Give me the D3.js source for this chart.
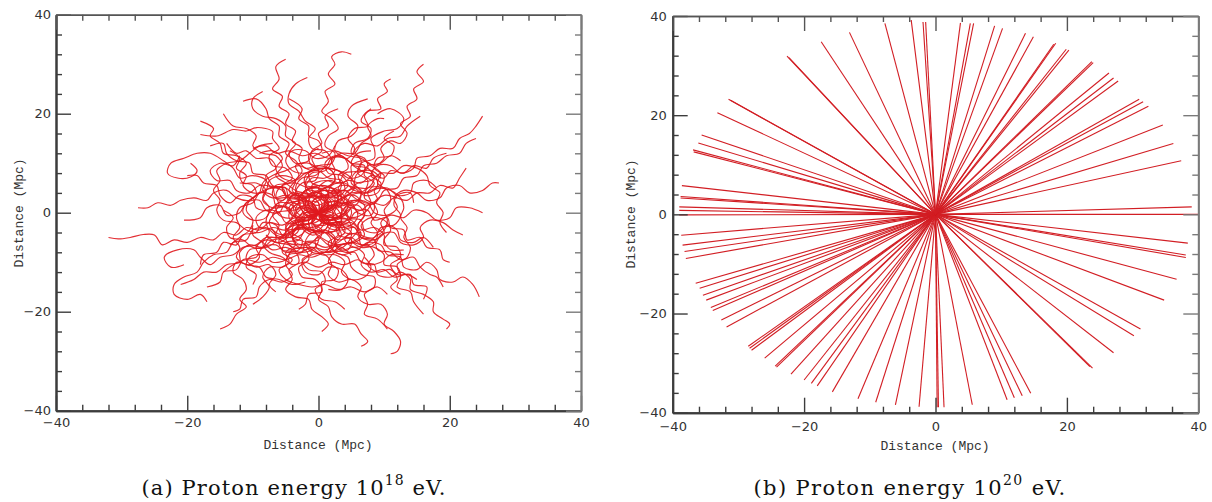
<!DOCTYPE html>
<html><head><meta charset="utf-8">
<script src="https://cdn.jsdelivr.net/npm/d3@7"></script>
<style>
html,body{margin:0;padding:0;background:#fff;}
svg{display:block;}
</style></head>
<body>
<script>
// ---------------- data ----------------
const axisDomain = [-40, 40];
const majorTicks = [-40, -20, 0, 20, 40];
const minorTicks = [-36,-32,-28,-24,-16,-12,-8,-4,4,8,12,16,24,28,32,36];
const axisTitle = "Distance (Mpc)";
const captionA = ["(a) Proton energy 10", "18", " eV."];
const captionB = ["(b) Proton energy 10", "20", " eV."];

// (a) 10^18 eV: diffusive trajectories (Mpc), each starting at the source
const walkPaths = [
 [[0,0],[1.5,1.5],[3,0.5],[3.5,-1.5],[2,-2.5],[0,-1.5],[-1.5,0],[-2,2],[-1,4],[1,5],[2.5,6.5],[2,8.5],[0,9.5],[-2,9],[-3,11],[-2.5,13],[-4,14.5],[-3.5,16.5],[-5,18],[-4.5,20],[-6,21.5],[-5.5,23.5],[-7,25],[-6,27],[-6.5,29.5],[-5,31]],
 [[0,0],[-1,-2],[-3,-2.5],[-4.5,-1],[-4,1],[-2,2],[0,1.5],[1.5,3],[1,5],[-1,6],[-1.5,8],[0,9.5],[2,10],[2.5,12],[1,13.5],[1.5,15.5],[3,17],[2,19],[0.5,20.5],[1.5,22.5],[1,24.5],[2.5,26],[1.5,28],[2.5,30],[2,31.5],[3.5,32.5],[5,32]],
 [[0,0],[2,-1],[4,0],[4.5,2],[3,3.5],[1,3],[0,5],[1.5,6.5],[3.5,6],[5,7.5],[5,9.5],[7,10.5],[8.5,9.5],[10,11],[9.5,13],[11,14.5],[12.5,14],[13.5,16],[12.5,18],[14,19.5],[13.5,21.5],[15,23],[14.5,25],[16,26.5],[15,28.5],[16,30]],
 [[0,0],[-1.5,1.5],[-1,3.5],[1,4.5],[3,4],[4,2],[6,2.5],[6.5,4.5],[5,6],[5.5,8],[7.5,9],[7,11],[5,12],[5.5,14],[7.5,15],[8,17],[6.5,18.5],[7.5,20.5],[9.5,21],[9,23],[10.5,24.5],[10,26],[11,27]],
 [[0,0],[2,0.5],[3,2.5],[2,4],[3.5,5.5],[5.5,5],[7,3.5],[9,4],[9.5,6],[8,7.5],[9,9.5],[11,9.5],[12.5,8],[14.5,9],[15,11],[17,11.5],[18.5,13],[20.5,13],[21.5,15],[23,16],[24,17.5],[25,19.5]],
 [[0,0],[1,-2],[3,-2.5],[4.5,-1],[4,1],[5.5,2.5],[7.5,2],[8.5,0],[10.5,-0.5],[12,1],[11.5,3],[13,4.5],[15,4],[16.5,2.5],[18.5,3],[19.5,5],[21.5,5.5],[23,4],[25,4.5],[26.5,6],[27.5,6]],
 [[0,0],[-1,-1.5],[0,-3.5],[2,-4],[3.5,-2.5],[5.5,-3],[6.5,-5],[8.5,-5.5],[10,-4],[9.5,-2],[11,-0.5],[13,-1],[14.5,0.5],[16.5,0],[18,-1.5],[20,-1],[21,1],[23,1],[25,0]],
 [[0,0],[2,1],[3,-1],[5,-1.5],[6,-3.5],[5,-5.5],[6.5,-7],[8.5,-6.5],[9.5,-4.5],[11.5,-4],[12.5,-6],[14.5,-6.5],[16,-5],[15.5,-3],[17,-1.5],[19,-2],[20.5,-3.5],[22,-4.5]],
 [[0,0],[0.5,-2],[2.5,-2.5],[3.5,-4.5],[2.5,-6.5],[4,-8],[6,-7.5],[7.5,-6],[9.5,-6.5],[10.5,-8.5],[12.5,-9],[13,-11],[15,-11.5],[16.5,-10],[18,-11.5],[18.5,-13.5],[20.5,-14],[22,-13],[23.5,-14.5],[24.5,-17]],
 [[0,0],[-2,-0.5],[-2.5,-2.5],[-1,-4],[1,-3.5],[2.5,-5],[2,-7],[3.5,-8.5],[5.5,-8],[6.5,-10],[8.5,-10.5],[9,-12.5],[11,-13],[12.5,-12],[14,-13.5],[14,-15.5],[16,-16.5],[17.5,-18],[17.5,-20],[19,-21.5],[20,-22.5],[19.5,-23.5]],
 [[0,0],[1.5,-1.5],[1,-3.5],[-1,-4],[-2,-6],[-1,-8],[1,-8.5],[2,-10.5],[1.5,-12.5],[3,-14],[5,-13.5],[6.5,-15],[6,-17],[7.5,-18.5],[9.5,-18.5],[10.5,-20.5],[10,-22.5],[11.5,-24],[12.5,-26],[12,-28],[11,-28.5]],
 [[0,0],[-1.5,-1],[-1.5,-3],[-3.5,-3.5],[-5,-5],[-4,-7],[-2,-7.5],[-1.5,-9.5],[-3,-11],[-2.5,-13],[-0.5,-13.5],[0.5,-15.5],[0,-17.5],[1.5,-19],[2,-21],[3.5,-22.5],[5.5,-22.5],[6.5,-24.5],[7.5,-26],[6.5,-27]],
 [[0,0],[-2,1],[-3.5,-0.5],[-3,-2.5],[-4.5,-4],[-6,-5.5],[-5.5,-7.5],[-3.5,-8],[-3,-10],[-4.5,-11.5],[-4,-13.5],[-5,-15.5],[-3.5,-17],[-1.5,-17.5],[-1,-19.5],[0.5,-21],[1.5,-22.5],[0.5,-24]],
 [[0,0],[-1.5,-1.5],[-3.5,-1],[-5,-2.5],[-4.5,-4.5],[-6,-6],[-8,-5.5],[-9.5,-7],[-9,-9],[-10.5,-10.5],[-12.5,-10],[-13,-12],[-11.5,-13.5],[-11,-15.5],[-12,-17.5],[-11,-19],[-12.5,-20.5],[-13.5,-22.5],[-15,-23.5]],
 [[0,0],[-2,0],[-3.5,-1.5],[-3,-3.5],[-4.5,-5],[-6.5,-4.5],[-8,-3],[-10,-3.5],[-11,-5.5],[-13,-6],[-14,-8],[-16,-8.5],[-17.5,-10],[-18.5,-12],[-20.5,-13],[-22,-14.5],[-22,-16.5],[-20,-17.5],[-18,-16.5],[-17,-18]],
 [[0,0],[-1,2],[-3,2.5],[-4.5,1],[-4,-1],[-5.5,-2.5],[-7.5,-2],[-9,-3.5],[-11,-3],[-12.5,-4.5],[-14.5,-4],[-16,-5.5],[-18,-5],[-20,-6],[-22,-5.5],[-23.8,-6.5],[-25,-4.5],[-26.7,-4.4],[-28.7,-5],[-30.5,-5.3],[-32,-5]],
 [[0,0],[-1.5,-1.5],[-3.5,-1],[-4.5,1],[-6.5,1.5],[-7,3.5],[-9,4],[-10.5,2.5],[-12.5,3],[-14,4.5],[-16,4],[-17,2.5],[-19,3],[-21,2.5],[-22.5,1.5],[-24.5,2],[-26,1],[-27.5,1]],
 [[0,0],[1,2],[0,4],[-2,4.5],[-3,3],[-5,3.5],[-5.5,5.5],[-4,7],[-5,9],[-7,9.5],[-7.5,11.5],[-6,13],[-7,15],[-7,16.4],[-9.4,17.2],[-11,16.5],[-13,16.8],[-15.5,15.5],[-18,15.8]],
 [[0,0],[-2,-1],[-3.5,0.5],[-3,2.5],[-5,3.5],[-7,3],[-8.5,4.5],[-8,6.5],[-10,7.5],[-12,7],[-13,9],[-14.5,10.5],[-16.5,12],[-18.5,12],[-20.5,11],[-22.5,10],[-23,8],[-21.5,7],[-19.5,7.2],[-18.5,8.5],[-19.5,10]],
 [[0,0],[0,2],[-2,2.5],[-3.5,4],[-2.5,6],[-0.5,6.5],[0,8.5],[-1.5,10],[-3.5,10],[-4.5,12],[-3.5,14],[-5,15.5],[-5,17.5],[-6.5,19],[-8.5,19.5],[-10,21],[-10,23],[-8.5,24.5]],
 [[0,0],[2,1],[2.5,3],[1,4.5],[-1,4],[-2,6],[-1,8],[1,8.5],[2,10.5],[1,12.5],[-1,13],[-1.5,15],[-0.5,17],[-2,18.5],[-3,20.5],[-4.5,22],[-4.5,24],[-3.5,26],[-1.7,27.3]],
 [[0,0],[1.5,1.5],[3.5,1],[4.5,-1],[6.5,-1.5],[7,-3.5],[9,-4],[10.5,-2.5],[12,-3.5],[12.5,-5.5],[14.5,-6],[16,-5],[17.5,-7]],
 [[0,0],[2,1],[3.5,2.5],[3,4.5],[1,5],[-0.5,3.5],[-2.5,3],[-3.5,5],[-2.5,7],[-0.5,7.5],[1,9],[3,8.5],[4.5,7],[6.5,7.5],[7.5,9.5],[9.5,10],[11,11.5],[12.5,10.5]],
 [[0,0],[-2,-1],[-2.5,-3],[-1,-4.5],[1,-4],[2.5,-5.5],[2,-7.5],[0,-8],[-2,-7],[-4,-7.5],[-5,-9.5],[-7,-10],[-8.5,-8.5],[-10.5,-9],[-11,-11],[-9.5,-12.5],[-10,-14.5]],
 [[0,0],[1,2],[-0.5,3.5],[-2.5,3],[-4,4.5],[-3.5,6.5],[-5.5,7.5],[-7.5,6.5],[-8,4.5],[-10,4],[-11.5,5.5],[-11,7.5],[-12.5,9],[-12,11],[-13.5,12.5]],
 [[0,0],[2,-0.5],[3,1.5],[5,2],[6,0],[8,-0.5],[8.5,1.5],[7,3],[7.5,5],[9.5,5.5],[10,7.5],[8.5,9],[9,11],[11,11.5],[11.5,13.5],[10,15],[11.5,16.5]],
 [[0,0],[-1,-2],[1,-2.5],[2.5,-1],[4.5,-1.5],[5,-3.5],[4,-5.5],[5.5,-7],[7.5,-6.5],[8.5,-8.5],[7.5,-10.5],[9,-12],[11,-11.5],[12,-13.5],[11,-15],[12.5,-16.5]],
 [[0,0],[-2,0.5],[-3,-1.5],[-2,-3.5],[-3.5,-5],[-5.5,-4.5],[-6.5,-2.5],[-8.5,-2],[-9.5,-4],[-11.5,-4.5],[-12.5,-6.5],[-14.5,-6],[-15.5,-8],[-17.5,-8.5],[-18,-10.5]],
 [[0,0],[0.5,-2],[-1.5,-3],[-3,-1.5],[-4.5,-3],[-4,-5],[-2,-6],[-1,-8],[-2.5,-9.5],[-1.5,-11.5],[0.5,-12],[1,-14],[-0.5,-15.5],[0.5,-17.5],[2.5,-18],[4,-19.5]],
 [[0,0],[1.5,-1.5],[3.5,-0.5],[3.5,1.5],[5.5,2.5],[7.5,1.5],[9,2.5],[8.5,4.5],[10.5,5],[12,3.5],[14,4],[14.5,6],[16.5,6.5],[18,5]],
 [[0,0],[-1,1.5],[-3,1],[-4,-1],[-6,-0.5],[-6.5,1.5],[-5,3],[-5.5,5],[-7.5,5.5],[-8,7.5],[-6.5,9],[-7.5,11],[-9.5,11],[-11,12.5],[-12.5,12],[-14,14]],
 [[0,0],[1.5,-2],[3.5,-2],[4,-4],[2.5,-5.5],[3.5,-7.5],[5.5,-7],[7,-8.5],[6.5,-10.5],[8,-12],[10,-11.5],[11.5,-13],[13.5,-12.5],[15,-13.5]],
 [[0,0],[-1.5,-1.5],[-3.5,-2],[-4,-4],[-2.5,-5.5],[-3,-7.5],[-5,-8],[-6.5,-6.5],[-8.5,-7],[-9.5,-9],[-11.5,-9.5],[-12.5,-11.5],[-14.5,-12],[-15,-14],[-17,-15]],
 [[0,0],[1.5,1.5],[1,3.5],[3,4],[4.5,5.5],[3.5,7.5],[1.5,8],[1,10],[2.5,11.5],[4.5,11],[5.5,13],[4.5,15],[5.5,17],[7.5,17.5],[7,19.5],[8,21]],
 [[0,0],[-2,1],[-2,3],[-4,4],[-5.5,2.5],[-7,3.5],[-6.5,5.5],[-4.5,6],[-3,7.5],[-3.5,9.5],[-1.5,10.5],[-1,12.5],[0.5,14],[0,16],[1.5,17.5],[1,19.5],[3,21]],
 [[0,0],[2,0.5],[2.5,-1.5],[4.5,-2],[5.5,0],[7.5,0.5],[8.5,-1.5],[10.5,-1],[11,-3],[13,-3.5],[13.5,-5.5],[15.5,-5],[16.5,-7],[18.5,-7.5],[19,-9.5],[20,-10]],
 [[0,0],[-2,-0.5],[-3,1.5],[-5,2],[-6,0],[-8,0.5],[-9,2.5],[-11,2],[-12,0],[-14,-0.5],[-15,1.5],[-17,1],[-18,-1],[-20.5,-1.5]],
 [[0,0],[0.5,-2],[2.5,-2.5],[3,-4.5],[5,-5.5],[4.5,-7.5],[2.5,-8],[1.5,-10],[3,-11.5],[2.5,-13.5],[0.5,-14],[0.5,-16],[-1.5,-16.5],[-2,-18.5],[-3,-19.5]],
 [[0,0],[1,1.5],[3,1],[4,3],[3,5],[4.5,6.5],[6.5,6],[8,7.5],[10,7],[11,8.5],[13,8],[14.5,9.5],[16.5,9],[17.5,11],[19.5,12]],
 [[0,0],[-1.5,1],[-2,3],[-4,3.5],[-5,1.5],[-7,1],[-8.5,2.5],[-8,4.5],[-9.5,6],[-11.5,6],[-12,8],[-11,10],[-12.5,11.5],[-14.5,12],[-15,14],[-16.5,15.5],[-16,17],[-18,18.5]],
 [[0,0],[1,-1.5],[0,-3.5],[-2,-3.5],[-3,-5.5],[-5,-6],[-5.5,-8],[-4,-9.5],[-5.5,-11],[-7.5,-11],[-8.5,-13],[-7.5,-15],[-8.5,-17],[-10,-18.5]],
 [[0,0],[2,1],[1.5,3],[-0.5,3.5],[-1,5.5],[1,6.5],[3,6],[4,8],[6,8.5],[6.5,10.5],[5.5,12.5],[7,14],[9,13.5],[10.5,15],[12.5,15.5],[13.5,17.5],[15.5,19.5]],
 [[0,0],[-1.5,-1],[-3.5,-0.5],[-4,1.5],[-6,2],[-7.5,0.5],[-9.5,1],[-10,3],[-12,3.5],[-13.5,2],[-15,3.5],[-15.5,5.5],[-17.5,6],[-18.5,7.5],[-20,7.5]],
 [[0,0],[1.5,-1],[1.5,-3],[3.5,-3.5],[5.5,-3],[6.5,-5],[8.5,-5.5],[9,-7.5],[11,-8],[12.5,-9.5],[14.5,-9],[15.5,-11],[17,-12.5],[18,-13],[19,-15]],
 [[0,0],[-1,-2],[0.5,-3.5],[0,-5.5],[-2,-6],[-2.5,-8],[-4.5,-8.5],[-5,-10.5],[-4,-12.5],[-5.5,-14],[-7.5,-13.5],[-9,-15],[-9.5,-17],[-11.5,-17.5],[-12,-19.5],[-13,-20]],
 [[0,0],[1.5,1],[1,3],[-1,3],[-2,5],[-1,7],[1,7],[2.5,8.5],[2,10.5],[3.5,12],[5.5,12],[6.5,14],[8,15.5],[7.5,17.5],[9,19],[10,19]],
 [[0,0],[-2,0.5],[-2.5,2.5],[-4.5,3],[-5,5],[-7,5.5],[-8,7.5],[-10,8],[-10.5,10],[-12.5,10.5],[-14,12],[-14.5,14],[-16.5,13.5]],
 [[0,0],[2,-0.5],[3,-2.5],[5,-2],[6.5,-3.5],[8.5,-3],[10,-4.5],[10,-6.5],[12,-7],[12.5,-9],[11,-10.5],[12,-12.5],[14,-12.5],[14.5,-14.5],[16.5,-15],[16,-17.5]],
 [[0,0],[-1.5,-1.5],[-3.5,-1.5],[-5,-3],[-5,-5],[-7,-5.5],[-8.5,-7],[-10.5,-6.5],[-12,-8],[-12,-10],[-14,-10.5],[-15.5,-12],[-17.5,-12],[-19,-13.5],[-21,-14.5]],
 [[0,0],[1,-2],[3,-2],[4,-4],[6,-4.5],[6.5,-6.5],[8.5,-7],[10,-8.5],[10,-10.5],[12,-11],[12.5,-13],[12,-15],[14,-16],[14.5,-18],[16,-20.5]],
 [[0,0],[-1,1.5],[0.5,3],[0,5],[-2,5.5],[-2,7.5],[-0.5,9],[-1,11],[0.5,12.5],[0,14.5],[-1.5,15.5],[-1.5,17.5],[-3,19],[-2.5,21],[-4.5,23]],
 [[0,0],[1.5,-1.5],[3.5,-1],[4.5,1],[6.5,0.5],[8,2],[10,1.5],[11.5,3],[13.5,2.5],[15,4],[17,4],[18.5,5.5],[20.5,5],[21.5,7],[22.5,9]],
 [[0,0],[-2,-1],[-2.5,-3],[-4.5,-3.5],[-6,-5],[-8,-5],[-9.5,-6.5],[-11.5,-7],[-13,-8.5],[-15,-9],[-16.5,-10.5],[-18,-9],[-19,-7.5],[-21.5,-7.5],[-23.5,-9],[-22.5,-11],[-20.5,-10.5]],
 [[0,0],[1,-2],[3,-2.5],[3,-4.5],[1.5,-6],[2.5,-8],[4.5,-9],[5,-11],[6.5,-12.5],[8.5,-13],[8.5,-15],[7,-16.5],[7.5,-18.5],[7,-20.5],[9,-21.5],[10.5,-23.5]],
 [[0,0],[2,1.5],[4,1.5],[5,3.5],[7,4.5],[7.5,6.5],[6,8],[6.5,10],[8.5,11],[8.5,13],[8,15],[10,16.5],[12,17],[13,19],[11,21],[9,20]],
 [[0,0],[-1,2],[0.5,3.5],[2.5,3.5],[3.5,5.5],[3,7.5],[4.5,9],[4,11],[2.5,12.5],[3,14.5],[5,15.5],[6,17.5],[4.5,19.5],[5,21.5],[7.5,23]],
 [[0,0],[-1.5,1.5],[-1.5,3.5],[-3.5,4.5],[-5,6],[-6.5,7.5],[-5.5,9.5],[-6.5,11.5],[-8.5,12],[-10,13.5],[-9.5,15.5],[-11,17],[-13,17.5],[-14.5,20]],
 [[0,0],[0.5,2],[-1,3.5],[-3,3],[-4.5,4.5],[-3.5,6.5],[-2.5,8.5],[-3.5,10.5],[-5,12],[-4.5,14],[-6,15.5],[-6,17.5],[-7.5,19],[-8,21],[-9.5,23],[-11.5,22.5]],
 [[0,0],[2,1],[3.5,3],[5.5,3.5],[7,2],[9,2.5],[10,4.5],[12,5],[13,7],[15,7.5],[16,9.5],[18,10],[19.5,11.5],[21.5,12],[22.5,14],[24,15]],
 [[0,0],[2,1],[3,3],[2,5],[0,5.5],[-2,4.5],[-3,2.5],[-2.5,0.5],[-1,-1],[1,-1.5],[3,-1],[4.5,0.5],[6,2],[6.5,4],[5.5,6],[6,8],[8,8.5],[9.5,7]],
 [[0,0],[-2,-1],[-4,-0.5],[-5,1.5],[-4,3.5],[-2,4],[0,3],[1.5,1.5],[1,-0.5],[-0.5,-2],[-2.5,-2.5],[-4,-4],[-3.5,-6],[-1.5,-6.5],[0,-5],[1.5,-6.5],[3.5,-7],[5,-8.5]],
 [[0,0],[1,-2],[3,-3],[5,-2.5],[6,-0.5],[5,1.5],[3,2],[1.5,3.5],[2,5.5],[4,6],[5.5,4.5],[7.5,4],[9,5.5],[8.5,7.5],[6.5,8.5],[5,10],[6,12],[8,12.5]],
 [[0,0],[-1,2],[-3,2],[-4.5,0.5],[-6.5,0],[-7.5,-2],[-6.5,-4],[-4.5,-4.5],[-3,-3],[-1,-3.5],[0,-5.5],[-1,-7.5],[-3,-8],[-5,-7],[-7,-7.5],[-8.5,-6],[-10,-4.5],[-10,-2.5]],
 [[0,0],[2,0],[3.5,-1.5],[3,-3.5],[1,-4],[-0.5,-5.5],[0,-7.5],[2,-8],[3.5,-6.5],[5.5,-6],[7,-4.5],[6.5,-2.5],[8,-1],[10,-1.5],[11,-3.5],[10,-5.5],[11,-7.5],[13,-7.5]],
 [[0,0],[-2,1.5],[-2.5,3.5],[-1,5],[1,5],[2.5,6.5],[2,8.5],[0,9],[-2,8],[-4,8.5],[-5,10.5],[-4,12.5],[-2,12.5],[-0.5,11],[1.5,11.5],[2.5,13.5]],
 [[0,0],[1.5,1.5],[1,3.5],[-1,4],[-2.5,2.5],[-4.5,2.5],[-5.5,4.5],[-7.5,5],[-8.5,3],[-7.5,1],[-8,-1],[-10,-1.5],[-11.5,0],[-11,2],[-9.5,3.5],[-10,5.5],[-12,6]],
 [[0,0],[1,-1.5],[3,-1],[4,1],[6,1.5],[7,-0.5],[6,-2.5],[6.5,-4.5],[8.5,-5],[9.5,-3],[11.5,-2.5],[12.5,-0.5],[11.5,1.5],[12,3.5],[14,4],[14.5,2]],
 [[0,0],[-1.5,-1.5],[-1,-3.5],[1,-4],[2,-6],[1,-8],[-1,-8.5],[-2.5,-10],[-2,-12],[0,-12.5],[1.5,-11],[3.5,-11.5],[4.5,-13.5],[3.5,-15.5],[1.5,-15.5]],
 [[0,0],[1.5,2],[3.5,2],[5,0.5],[4.5,-1.5],[2.5,-2],[1.5,-4],[3,-5.5],[5,-5],[6.5,-6.5],[8.5,-6],[9,-4],[8,-2],[9,0],[8.5,2],[10,3.5],[12,3]],
 [[0,0],[-1,2],[0.5,3.5],[2.5,3],[4,4.5],[3.5,6.5],[1.5,7],[0,8.5],[-2,8],[-3.5,6.5],[-5.5,7],[-6.5,9],[-5.5,11],[-7,12.5],[-9,12]],
 [[0,0],[-2,0],[-3,-2],[-5,-2],[-6,0],[-8,0.5],[-9.5,-1],[-9,-3],[-7,-3.5],[-6.5,-5.5],[-8,-7],[-10,-7],[-11.5,-5.5],[-13.5,-5],[-14,-3],[-13,-1],[-14.5,0.5]],
 [[0,0],[0.5,-2],[-1,-3.5],[-3,-3],[-4,-5],[-3,-7],[-1,-7],[0.5,-8.5],[2.5,-8.5],[4,-10],[3.5,-12],[5,-13.5],[7,-13],[8,-11],[7,-9]],
 [[0,0],[2,-1],[4,-0.5],[5,1.5],[4,3.5],[5.5,5],[7.5,5],[8.5,7],[7.5,9],[5.5,9.5],[4,11],[2,11],[1,9],[-1,9.5],[-1.5,11.5],[0,13]],
 [[0,0],[-1.5,1.5],[-3.5,1],[-4.5,3],[-6.5,3],[-7,5],[-9,5.5],[-10.5,4],[-12.5,4.5],[-13.5,6.5],[-15.5,6.5],[-16.5,8.5],[-15,10],[-13,9.5],[-12,11.5]],
 [[0,0],[1.5,-1.5],[1,-3.5],[-1,-4],[-2.5,-2.5],[-4.5,-3],[-5.5,-5],[-7.5,-5],[-8.5,-7],[-10.5,-7.5],[-11,-9.5],[-9.5,-11],[-7.5,-10.5],[-6.5,-12.5],[-7.5,-14.5],[-6.5,-16]],
 [[0,0],[2,1.5],[4,3],[5.5,5],[5,7],[3,8.5],[1,9],[-1,8.5],[-3,9.5],[-5,8.5],[-7,7.5],[-8.5,6],[-9,4],[-10.5,2.5],[-11,0.5],[-10,-1.5],[-10.5,-3.5],[-12,-5],[-13.5,-6.5]],
 [[0,0],[-1,-2],[-0.5,-4],[1,-5.5],[3,-6.5],[5,-6],[7,-6.5],[8.5,-5],[10,-3.5],[10.5,-1.5],[10,0.5],[11,2.5],[10.5,4.5],[9,6],[9.5,8],[8,9.5],[6.5,11],[4.5,11.5],[2.5,12.5],[0.5,12]],
 [[0,0],[-2,1],[-4,0.5],[-6,1.5],[-7.5,0],[-8,-2],[-7.5,-4],[-8.5,-6],[-7.5,-8],[-5.5,-9],[-4,-10.5],[-2,-10],[0,-11],[2,-10],[4,-10.5],[6,-9.5],[7.5,-10.5],[9.5,-10],[11,-8.5],[13,-8.5]],
 [[0,0],[1.5,-1],[3.5,0],[5,-1],[7,0],[8,2],[7.5,4],[8.5,6],[7,7.5],[7,9.5],[5,10],[3.5,11.5],[1.5,11],[-0.5,12],[-2.5,11.5],[-4.5,12.5],[-6.5,12],[-8,13.5],[-10,13]],
 [[0,0],[0,2],[-1.5,3.5],[-3.5,3.5],[-5,5],[-7,5],[-9,4],[-10,2],[-12,1],[-12.5,-1],[-12,-3],[-13,-5],[-12,-7],[-12.5,-9],[-11,-10.5],[-9,-11],[-8,-13],[-6,-13.5],[-4,-14.5],[-2,-14]],
 [[0,0],[2,-1],[3.5,-2.5],[5,-4],[4.5,-6],[3,-7.5],[1,-8],[-1,-9],[-3,-8.5],[-5,-9.5],[-7,-9],[-9,-10],[-11,-9.5],[-13,-10.5],[-14.5,-12]],
 [[0,0],[1,2],[3,2.5],[5,4],[7,4],[9,5],[11,4.5],[12.5,3],[13,1],[12.5,-1],[13.5,-3],[13,-5],[14,-7],[13.5,-9],[12,-10.5],[12.5,-12.5]],
 [[0,0],[-1.5,-1.5],[-3.5,-2],[-5,-3.5],[-7,-3],[-9,-4],[-11,-3.5],[-12.5,-2],[-14.5,-1.5],[-15.5,0.5],[-15,2.5],[-16,4.5],[-15,6.5],[-15.5,8.5],[-14,10],[-12,10.5],[-10.5,12],[-9,13.5],[-7,14]],
 [[0,0],[1.5,1],[1,3],[2.5,4.5],[4.5,4.5],[6,6],[8,6.5],[9.5,8],[11.5,8],[13,9.5],[15,9],[16.5,7.5],[17,5.5],[18.5,4],[18,2],[19,0],[18.5,-2],[19.5,-4]],
 [[0,0],[-1,-2],[-3,-2.5],[-4,-4.5],[-3.5,-6.5],[-5,-8],[-4.5,-10],[-6,-11.5],[-5,-13.5],[-3,-14.5],[-1,-15],[1,-14.5],[3,-15.5],[5,-15],[7,-16],[9,-15],[10.5,-16.5]],
 [[0,0],[2,0.5],[3,2.5],[2.5,4.5],[0.5,5.5],[-1.5,5],[-3.5,6],[-5.5,5.5],[-6.5,3.5],[-6,1.5],[-7,-0.5],[-6,-2.5],[-6.5,-4.5],[-5,-6],[-3,-6.5],[-1,-6],[1,-7],[3,-6],[4.5,-4.5],[6.5,-4]],
 [[0,0],[-2,0.5],[-3,2.5],[-2,4.5],[0,5],[2,4],[4,4.5],[5.5,3],[7,1.5],[7,-0.5],[6,-2.5],[6.5,-4.5],[5,-6],[3,-6.5],[1,-7.5],[-1,-7],[-3,-8],[-4.5,-6.5],[-6.5,-6],[-8,-4.5]]
];

// (b) 10^20 eV: end points of straight trajectories (Mpc), all from the source at (0,0)
const rayEnds = [
 [-3.7,39.2],[-1.5,38.8],[-1.9,38.8],[-7.7,38.5],[-13.1,36.7],[-17.4,34.8],[-22.6,31.9],[-22.3,31.6],
 [-31.5,23.2],[-31.2,23.0],[-33.2,20.5],[-35.6,16],[-36.1,14.4],[-36.9,13],[-36.8,12.6],
 [-38.6,5.8],[-38.8,3.6],[-38.8,3.3],[-39,1.5],[-39,0.8],[-39,-0.1],
 [-38.7,-4.2],[-38.5,-6.2],[-38.2,-7.5],[-38,-8.9],[-36.5,-13.9],[-35.9,-14.9],[-35.4,-16.3],[-34.9,-17.3],
 [-34.2,-18.8],[-33.9,-19.4],[-32.6,-21.3],[-31.8,-22.7],[-28.5,-26.6],[-28.3,-27],[-28,-27.4],[-26,-29],
 [-24.4,-30.6],[-24.2,-30.8],[-22,-32.2],[-20,-33.4],[-18.9,-34.1],[-18,-34.6],[-15.7,-35.8],[-11.8,-37.2],
 [-9.1,-37.9],[-6.1,-38.4],[-2.5,-38.8],
 [0.25,-38.9],[0.45,-38.9],[1.3,-38.9],[5.6,-38.4],[10.9,-37.4],[12,-37],[13.2,-36.6],[14.5,-36.1],
 [23.5,-30.7],[23.9,-31],[27.1,-27.9],[30.2,-24.5],[31.2,-23.1],[34.8,-17.3],[36.7,-13.1],[38.1,-8.2],[38.1,-8.7],[38.4,-5.8],
 [40,0],[39,1.5],[37.4,10.8],[36.2,14.3],[34.6,18],[32.4,21.8],[31.6,22.7],[31,23.2],[27.8,26.9],[27.1,27.5],[26.4,28.5],
 [24,30.6],[23.8,30.8],[20.3,33.1],[19.9,33.3],[18.3,34.5],[18,34.3],[14.9,35.8],[13.7,36.5],[10.2,37.5],[9,38],
 [5.8,38.5],[5.3,38.5],[3.8,38.6]
];

// ---------------- drawing ----------------
const W = 1212, H = 502;
const svg = d3.select("body").append("svg").attr("width", W).attr("height", H);

const panels = [
  {x0:56, x1:581, y0:410.7, y1:14.7, padX:7, padY:5, titleX:318, titleY:444, yTitleX:18, yTitleY:213,
   caption:captionA, capX:294, capW:305, kind:"walk"},
  {x0:672.7, x1:1198.3, y0:412.7, y1:16, padX:9, padY:6, titleX:935, titleY:445.5, yTitleX:630, yTitleY:214,
   caption:captionB, capX:910, capW:313, kind:"ray"}
];

panels.forEach((p, i) => {
  const x = d3.scaleLinear().domain(axisDomain).range([p.x0, p.x1]);
  const y = d3.scaleLinear().domain(axisDomain).range([p.y0, p.y1]);
  const g = svg.append("g");

  const clipId = "clip" + i;
  svg.append("clipPath").attr("id", clipId).append("rect")
    .attr("x", p.x0).attr("y", p.y1).attr("width", p.x1 - p.x0).attr("height", p.y0 - p.y1);

  const marks = g.append("g").attr("clip-path", `url(#${clipId})`);
  if (p.kind === "walk") {
    const line = d3.line().x(d => x(d[0])).y(d => y(d[1])).curve(d3.curveCatmullRom.alpha(0.5));
    marks.selectAll("path").data(walkPaths).join("path")
      .attr("d", line).attr("fill", "none")
      .attr("stroke", "#e01a1f").attr("stroke-width", 1.15).attr("stroke-opacity", 0.9);
  } else {
    marks.selectAll("line").data(rayEnds).join("line")
      .attr("x1", x(0)).attr("y1", y(0))
      .attr("x2", d => x(d[0])).attr("y2", d => y(d[1]))
      .attr("stroke", "#d21e24").attr("stroke-width", 1.1);
  }

  const dark = "#3c3c3c", light = "#7a7a7a";
  function styleAxis(sel, col, w) {
    sel.selectAll(".domain").attr("stroke", col).attr("stroke-width", w);
    sel.selectAll(".tick line").attr("stroke", col).attr("stroke-width", 1.4);
    sel.selectAll("text").attr("font-family", "DejaVu Sans").attr("font-size", 13).attr("fill", "#333");
  }
  const fmt = d => String(d).replace("-", "\u2212");
  // bottom
  const gb = g.append("g").attr("transform", `translate(0,${p.y0})`);
  gb.call(d3.axisBottom(x).tickValues(minorTicks).tickSize(-6).tickSizeOuter(0).tickFormat(""));
  gb.append("g").call(d3.axisBottom(x).tickValues(majorTicks).tickSize(-15).tickSizeOuter(0)
      .tickPadding(p.padX).tickFormat(fmt));
  styleAxis(gb, dark, 2);
  // left
  const gl = g.append("g").attr("transform", `translate(${p.x0},0)`);
  gl.call(d3.axisLeft(y).tickValues(minorTicks).tickSize(-6).tickSizeOuter(0).tickFormat(""));
  gl.append("g").call(d3.axisLeft(y).tickValues(majorTicks).tickSize(-15).tickSizeOuter(0)
      .tickPadding(p.padY).tickFormat(fmt));
  styleAxis(gl, dark, 2);
  // top
  const gt = g.append("g").attr("transform", `translate(0,${p.y1})`);
  gt.call(d3.axisTop(x).tickValues(minorTicks).tickSize(-6).tickSizeOuter(0).tickFormat(""));
  gt.append("g").call(d3.axisTop(x).tickValues(majorTicks).tickSize(-15).tickSizeOuter(0).tickFormat(""));
  styleAxis(gt, "#555", 1.6);
  // right
  const gr = g.append("g").attr("transform", `translate(${p.x1},0)`);
  gr.call(d3.axisRight(y).tickValues(minorTicks).tickSize(-6).tickSizeOuter(0).tickFormat(""));
  gr.append("g").call(d3.axisRight(y).tickValues(majorTicks).tickSize(-15).tickSizeOuter(0).tickFormat(""));
  styleAxis(gr, light, 1.8);

  // axis titles
  g.append("text").attr("x", p.titleX).attr("y", p.titleY).attr("dy", "0.35em")
    .attr("text-anchor", "middle").attr("font-family", "Liberation Mono").attr("font-size", 13)
    .attr("fill", "#333").text(axisTitle);
  g.append("text").attr("transform", `translate(${p.yTitleX},${p.yTitleY}) rotate(-90)`).attr("dy", "0.35em")
    .attr("text-anchor", "middle").attr("font-family", "Liberation Mono").attr("font-size", 13)
    .attr("fill", "#333").text(axisTitle);

  // caption
  const cap = g.append("text").attr("x", p.capX).attr("y", 495)
    .attr("text-anchor", "middle").attr("font-family", "DejaVu Serif").attr("font-size", 21)
    .attr("fill", "#111");
  cap.append("tspan").text(p.caption[0]);
  cap.append("tspan").attr("dy", -10).attr("font-size", 14).text(p.caption[1]);
  cap.append("tspan").attr("dy", 10).text(p.caption[2]);
  const wNow = cap.node().getComputedTextLength();
  const nChars = p.caption.join("").length;
  cap.attr("letter-spacing", ((p.capW - wNow) / nChars).toFixed(2));
});
</script>
</body></html>
